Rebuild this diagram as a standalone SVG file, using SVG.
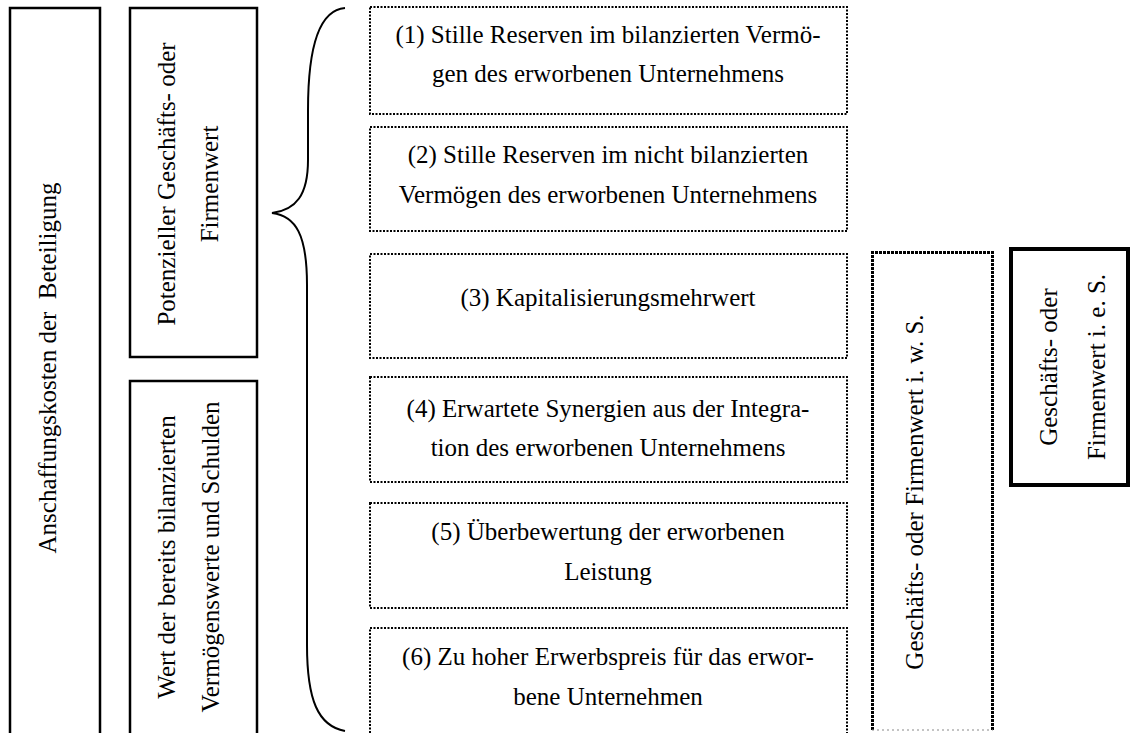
<svg xmlns="http://www.w3.org/2000/svg" width="1132" height="733" viewBox="0 0 1132 733">
<style>
.t{font-family:"Liberation Serif","Times New Roman",serif;font-size:25px;fill:#000;text-anchor:middle}
.solid{fill:none;stroke:#000;stroke-width:2.5}
.thick{fill:none;stroke:#000;stroke-width:4}
.dot{fill:none;stroke:#000;stroke-width:2;stroke-dasharray:2 1.5}
.dot2{fill:none;stroke:#000;stroke-width:3;stroke-dasharray:3 1}
.brace{fill:none;stroke:#000;stroke-width:2}
</style>
<rect width="1132" height="733" fill="#fff"/>
<g id="anschaffungskosten">
<path class="solid" d="M10,740 V8 H100 V740"/>
<text class="t" transform="translate(56,368) rotate(-90)" xml:space="preserve">Anschaffungskosten der  Beteiligung</text>
</g>
<g id="potenzieller">
<rect class="solid" x="130" y="8" width="127" height="349"/>
<text class="t" transform="translate(175,184) rotate(-90)">Potenzieller Geschäfts- oder</text>
<text class="t" transform="translate(218,184) rotate(-90)">Firmenwert</text>
</g>
<g id="wert-bilanziert">
<path class="solid" d="M130,740 V381 H257 V740"/>
<text class="t" transform="translate(175,557) rotate(-90)">Wert der bereits bilanzierten</text>
<text class="t" transform="translate(219,557) rotate(-90)">Vermögenswerte und Schulden</text>
</g>
<g id="connectors">
<path class="brace" d="M345,8 C318,10 308,50 308,110 L308,160 C308,195 296,210 272,213 C296,216 307,235 307,285 L307,645 C307,700 318,726 345,731"/>
</g>
<g id="item1">
<rect class="dot" x="370" y="7" width="477" height="107"/>
<text class="t" x="608" y="43">(1) Stille Reserven im bilanzierten Vermö-</text>
<text class="t" x="608" y="82">gen des erworbenen Unternehmens</text>
</g>
<g id="item2">
<rect class="dot" x="370" y="127" width="477" height="104"/>
<text class="t" x="608" y="163">(2) Stille Reserven im nicht bilanzierten</text>
<text class="t" x="608" y="203">Vermögen des erworbenen Unternehmens</text>
</g>
<g id="item3">
<rect class="dot" x="370" y="254" width="477" height="104"/>
<text class="t" x="608" y="306">(3) Kapitalisierungsmehrwert</text>
</g>
<g id="item4">
<rect class="dot" x="370" y="377" width="477" height="105"/>
<text class="t" x="608" y="417">(4) Erwartete Synergien aus der Integra-</text>
<text class="t" x="608" y="456">tion des erworbenen Unternehmens</text>
</g>
<g id="item5">
<rect class="dot" x="370" y="503" width="477" height="105"/>
<text class="t" x="608" y="540">(5) Überbewertung der erworbenen</text>
<text class="t" x="608" y="580">Leistung</text>
</g>
<g id="item6">
<path class="dot" d="M370,740 V628 H847 V740"/>
<text class="t" x="608" y="665">(6) Zu hoher Erwerbspreis für das erwor-</text>
<text class="t" x="608" y="705">bene Unternehmen</text>
</g>
<g id="geschaeftswert-iws">
<path class="dot2" d="M872.5,730 V252.5 H992.5 V730"/>
<path d="M872,730 H993" fill="none" stroke="#888" stroke-width="1" stroke-dasharray="2 3"/>
<text class="t" transform="translate(923,492) rotate(-90)">Geschäfts- oder Firmenwert i. w. S.</text>
</g>
<g id="geschaeftswert-ies">
<rect class="thick" x="1011" y="249" width="117" height="236"/>
<text class="t" transform="translate(1057,367) rotate(-90)">Geschäfts- oder</text>
<text class="t" transform="translate(1105,367) rotate(-90)">Firmenwert i. e. S.</text>
</g>
</svg>
